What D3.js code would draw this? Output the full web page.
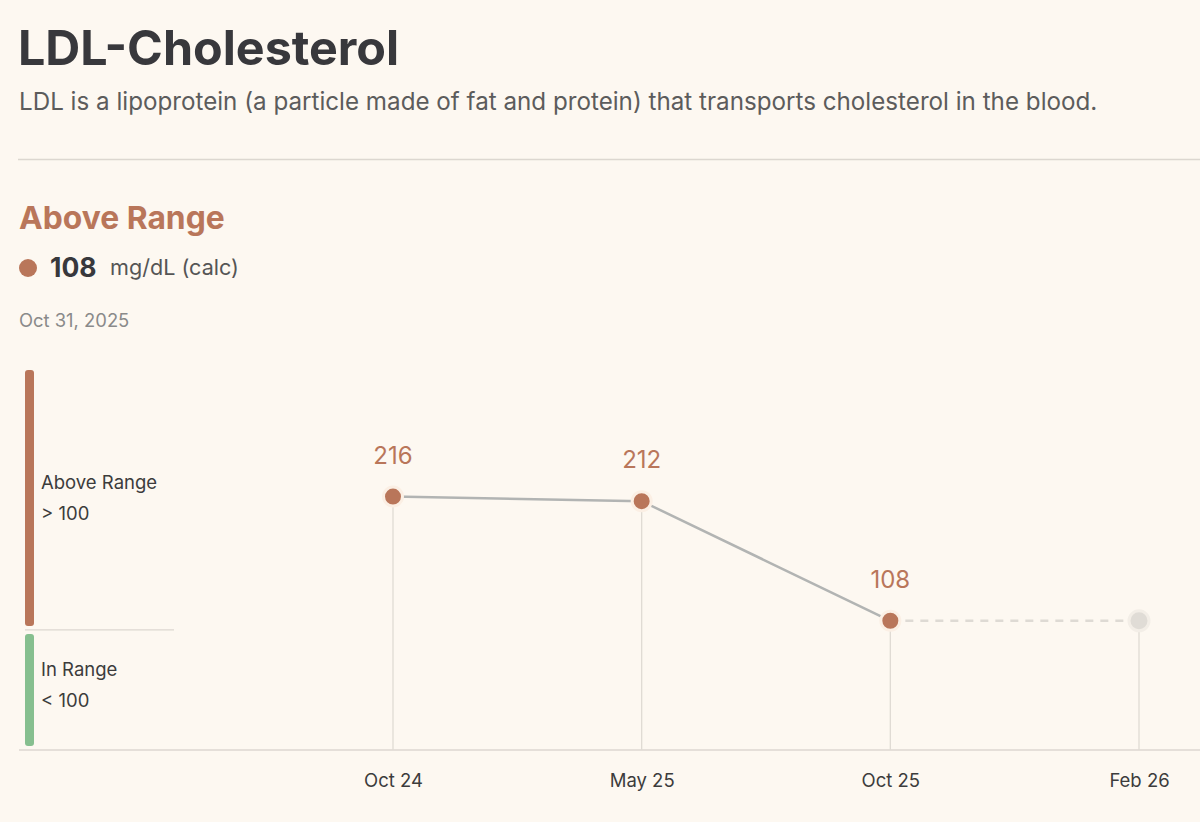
<!DOCTYPE html>
<meta charset="utf-8">
<style>
    body { margin: 0; background: #fdf8f1; }
    svg { display: block; font-family: Inter, "Noto Sans", sans-serif; }
</style>
<svg width="1200" height="822"></svg>
<script src="https://d3js.org/d3.v7.min.js"></script>
<script>

    // data
    var months = ["Oct 24", "May 25", "Oct 25", "Feb 26"];
    var values = [216, 212, 108, null];   // last one is the upcoming (empty) test
    var ranges = [
        { name: "Above Range", rule: "> 100", from: 100, to: 326, color: "#b9765a" },
        { name: "In Range", rule: "< 100", from: 0, to: 100, color: "#86bf8f" }
    ];
    var latest = { status: "Above Range", value: 108, unit: "mg/dL (calc)", date: "Oct 31, 2025" };

    var svg = d3.select("svg"),
        width = +svg.attr("width");

    var accent = "#b9765a", ink = "#38383c", rule = "#dcd7d0";

    // header
    svg.append("text").attr("x", 18).attr("y", 65)
        .attr("font-size", 48.4).attr("font-weight", 700).attr("fill", ink)
        .text("LDL-Cholesterol");
    svg.append("text").attr("x", 19).attr("y", 110)
        .attr("font-size", 24.2).attr("fill", "#5c5c5c")
        .text("LDL is a lipoprotein (a particle made of fat and protein) that transports cholesterol in the blood.");
    svg.append("line").attr("x1", 18).attr("x2", width).attr("y1", 159.5).attr("y2", 159.5)
        .attr("stroke", rule).attr("stroke-width", 1.5);

    svg.append("text").attr("x", 19).attr("y", 229)
        .attr("font-size", 31.8).attr("font-weight", 700).attr("fill", accent)
        .text(latest.status);
    svg.append("circle").attr("cx", 28).attr("cy", 268).attr("r", 9).attr("fill", accent);
    svg.append("text").attr("x", 50).attr("y", 277)
        .attr("font-size", 26.5).attr("font-weight", 700).attr("fill", ink)
        .text(latest.value);
    svg.append("text").attr("x", 110).attr("y", 275)
        .attr("font-size", 21.6).attr("fill", "#555")
        .text(latest.unit);
    svg.append("text").attr("x", 19).attr("y", 327)
        .attr("font-size", 18.4).attr("fill", "#8a8a8a")
        .text(latest.date);

    // scales
    var x = d3.scalePoint().domain(months).range([393, 1139]);
    var y = d3.scaleLinear().domain([0, 326]).range([745, 370]);
    var baseY = 750;

    // range legend on the left
    var band = svg.append("g").selectAll("g").data(ranges).enter().append("g");
    band.append("rect")
        .attr("x", 25).attr("width", 9).attr("rx", 3)
        .attr("y", function (d) { return y(d.to) + (d.to === 326 ? 0 : 4); })
        .attr("height", function (d) { return y(d.from) - y(d.to) - (d.to === 326 ? 4 : 3); })
        .attr("fill", function (d) { return d.color; });
    band.append("text").attr("x", 41)
        .attr("y", function (d) { return (y(d.from) + y(d.to)) / 2 - 11; })
        .attr("font-size", 18.5).attr("fill", "#3c3c3c")
        .text(function (d) { return d.name; });
    band.append("text").attr("x", 41)
        .attr("y", function (d) { return (y(d.from) + y(d.to)) / 2 + 20; })
        .attr("font-size", 18.5).attr("fill", "#3c3c3c")
        .text(function (d) { return d.rule; });
    svg.append("line").attr("x1", 25).attr("x2", 174).attr("y1", y(100)).attr("y2", y(100))
        .attr("stroke", rule).attr("stroke-width", 1.2);

    // baseline
    svg.append("line").attr("x1", 19).attr("x2", width).attr("y1", baseY).attr("y2", baseY)
        .attr("stroke", rule).attr("stroke-width", 1.5);

    var pts = months.map(function (m, i) { return { m: m, v: values[i] }; });
    var known = pts.filter(function (d) { return d.v != null; });
    var last = known[known.length - 1];

    // stems
    svg.append("g").selectAll("line").data(pts).enter().append("line")
        .attr("x1", function (d) { return x(d.m); })
        .attr("x2", function (d) { return x(d.m); })
        .attr("y1", function (d) { return d.v != null ? y(d.v) : y(last.v); })
        .attr("y2", baseY)
        .attr("stroke", "#e0dbd4").attr("stroke-width", 1.3);

    // dashed line to the next test
    svg.append("line")
        .attr("x1", x(last.m)).attr("x2", x(months[months.length - 1]))
        .attr("y1", y(last.v)).attr("y2", y(last.v))
        .attr("stroke", "#dedad4").attr("stroke-width", 2.5).attr("stroke-dasharray", "8,7");

    // trend line
    var line = d3.line().x(function (d) { return x(d.m); }).y(function (d) { return y(d.v); });
    svg.append("path").datum(known).attr("d", line)
        .attr("fill", "none").attr("stroke", "#b2b4b3").attr("stroke-width", 2.5);

    // placeholder point
    svg.append("circle")
        .attr("cx", x(months[months.length - 1])).attr("cy", y(last.v)).attr("r", 10)
        .attr("fill", "#e0dcd6").attr("stroke", "#f3eee7").attr("stroke-width", 3);

    // points and value labels
    svg.append("g").selectAll("circle").data(known).enter().append("circle")
        .attr("cx", function (d) { return x(d.m); })
        .attr("cy", function (d) { return y(d.v); })
        .attr("r", 9.5)
        .attr("fill", accent).attr("stroke", "#fbefe4").attr("stroke-width", 3);
    svg.append("g").selectAll("text").data(known).enter().append("text")
        .attr("x", function (d) { return x(d.m); })
        .attr("y", function (d) { return y(d.v) - 33; })
        .attr("text-anchor", "middle")
        .attr("font-size", 24).attr("fill", accent)
        .text(function (d) { return d.v; });

    // x axis labels
    var axis = svg.append("g").attr("transform", "translate(0," + 774 + ")")
        .call(d3.axisBottom(x).tickSize(0).tickPadding(0));
    axis.select(".domain").remove();
    axis.selectAll("text").attr("font-size", 18.5).attr("fill", "#3c3c3c")
        .attr("font-family", "Inter, 'Noto Sans', sans-serif").attr("dy", "0.71em");

</script>
